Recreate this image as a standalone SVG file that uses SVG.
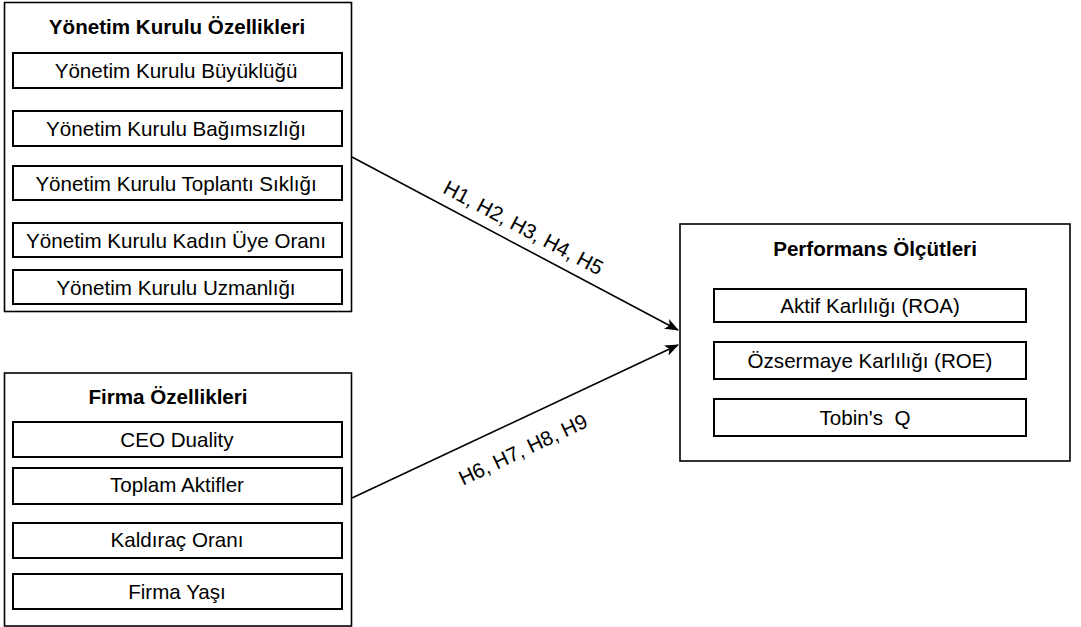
<svg xmlns="http://www.w3.org/2000/svg" width="1081" height="627" viewBox="0 0 1081 627">
<style>
.outer{fill:#fff;stroke:#000;stroke-width:1.6}
.inner{fill:#fff;stroke:#000;stroke-width:2}
.t{font-family:"Liberation Sans",Arial,sans-serif;font-size:20.6px;fill:#000;text-anchor:middle;white-space:pre}
.b{font-weight:bold}
.conn{stroke:#000;stroke-width:1.6;fill:none}
</style>
<defs>
<marker id="arr" viewBox="0 0 14 11" refX="13" refY="5.5" markerWidth="14" markerHeight="11" markerUnits="userSpaceOnUse" orient="auto">
<path d="M0,0 L14,5.5 L0,11 L3.5,5.5 Z" fill="#000"/>
</marker>
</defs>
<rect width="1081" height="627" fill="#fff"/>
<g id="yonetim">
<rect class="outer" x="4.5" y="2.5" width="347" height="309"/>
<text class="t b" x="177" y="34">Yönetim Kurulu Özellikleri</text>
<rect class="inner" x="13" y="53" width="329" height="35"/>
<text class="t" x="176" y="78">Yönetim Kurulu Büyüklüğü</text>
<rect class="inner" x="13" y="111" width="329" height="35"/>
<text class="t" x="176" y="136">Yönetim Kurulu Bağımsızlığı</text>
<rect class="inner" x="13" y="166" width="329" height="34"/>
<text class="t" x="176" y="191">Yönetim Kurulu Toplantı Sıklığı</text>
<rect class="inner" x="13" y="223" width="329" height="34"/>
<text class="t" x="176" y="248">Yönetim Kurulu Kadın Üye Oranı</text>
<rect class="inner" x="13" y="270" width="329" height="34"/>
<text class="t" x="176" y="295">Yönetim Kurulu Uzmanlığı</text>
</g>
<g id="firma">
<rect class="outer" x="4.5" y="373" width="347" height="253"/>
<text class="t b" x="168" y="404">Firma Özellikleri</text>
<rect class="inner" x="13" y="422" width="329" height="35"/>
<text class="t" x="177" y="447">CEO Duality</text>
<rect class="inner" x="13" y="468" width="329" height="36"/>
<text class="t" x="177" y="492">Toplam Aktifler</text>
<rect class="inner" x="13" y="523" width="329" height="35"/>
<text class="t" x="177" y="547">Kaldıraç Oranı</text>
<rect class="inner" x="13" y="574" width="329" height="35"/>
<text class="t" x="177" y="599">Firma Yaşı</text>
</g>
<g id="performans">
<rect class="outer" x="680" y="224" width="390" height="237"/>
<text class="t b" x="875" y="256">Performans Ölçütleri</text>
<rect class="inner" x="714" y="289" width="312" height="33"/>
<text class="t" x="870" y="313">Aktif Karlılığı (ROA)</text>
<rect class="inner" x="714" y="342" width="312" height="37"/>
<text class="t" x="870" y="368">Özsermaye Karlılığı (ROE)</text>
<rect class="inner" x="714" y="399" width="312" height="37"/>
<text class="t" x="865" y="425">Tobin's  Q</text>
</g>
<g id="connectors">
<line class="conn" x1="352" y1="157" x2="678" y2="330" marker-end="url(#arr)"/>
<line class="conn" x1="352" y1="498" x2="678" y2="345" marker-end="url(#arr)"/>
<text class="t" x="0" y="0" transform="translate(520,234) rotate(28)">H1, H2, H3, H4, H5</text>
<text class="t" x="0" y="0" transform="translate(526,456) rotate(-25.3)">H6, H7, H8, H9</text>
</g>
</svg>
